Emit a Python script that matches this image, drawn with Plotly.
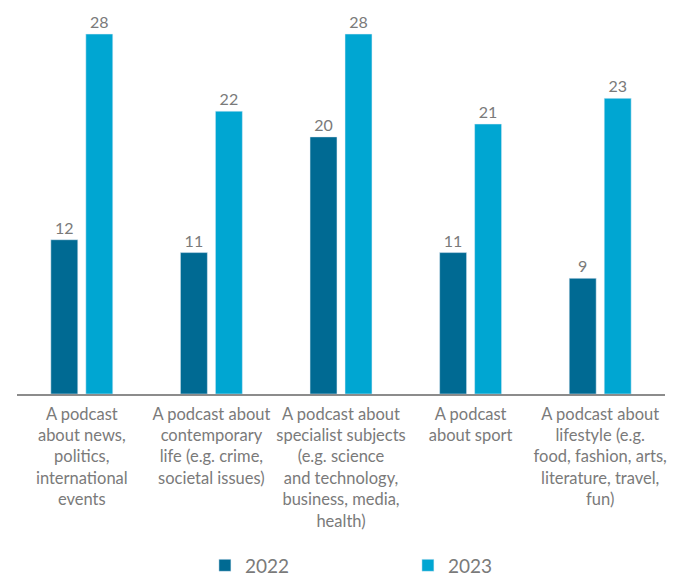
import plotly.graph_objects as go

categories = [
    "A podcast<br>about news,<br>politics,<br>international<br>events",
    "A podcast about<br>contemporary<br>life (e.g. crime,<br>societal issues)",
    "A podcast about<br>specialist subjects<br>(e.g. science<br>and technology,<br>business, media,<br>health)",
    "A podcast<br>about sport",
    "A podcast about<br>lifestyle (e.g.<br>food, fashion, arts,<br>literature, travel,<br>fun)",
]
values_2022 = [12, 11, 20, 11, 9]
values_2023 = [28, 22, 28, 21, 23]

DARK = "#006a93"
LIGHT = "#00a6d2"
GREY = "#7a7a7a"
FONT = "Lato"

fig = go.Figure()
fig.add_trace(go.Bar(
    name="2022", x=categories, y=values_2022, marker_color=DARK,
    text=values_2022, textposition="outside", cliponaxis=False,
    textfont=dict(color=GREY, size=16, family=FONT),
))
fig.add_trace(go.Bar(
    name="2023", x=categories, y=values_2023, marker_color=LIGHT,
    text=values_2023, textposition="outside", cliponaxis=False,
    textfont=dict(color=GREY, size=16, family=FONT),
))

fig.update_layout(
    width=678, height=574,
    margin=dict(l=9, r=21, t=2, b=188, autoexpand=False),
    paper_bgcolor="white", plot_bgcolor="white",
    barmode="group", bargap=0.46, bargroupgap=0.23,
    font=dict(family=FONT, color=GREY, size=16),
    showlegend=True,
    legend=dict(
        orientation="h", x=0.29, xanchor="left", y=-0.397, yanchor="top",
        font=dict(size=19, color=GREY, family=FONT),
        entrywidth=158, entrywidthmode="pixels",
    ),
)
fig.update_xaxes(
    showline=True, linecolor="#8c8c8c", linewidth=1.5, ticks="",
    tickfont=dict(size=16.5, color=GREY, family=FONT),
    showgrid=False, zeroline=False, automargin=False, ticklabelstandoff=4,
)
fig.update_yaxes(
    visible=False, range=[0, 29.87], showgrid=False, zeroline=False,
    automargin=False,
)

fig.write_html("out.html")
